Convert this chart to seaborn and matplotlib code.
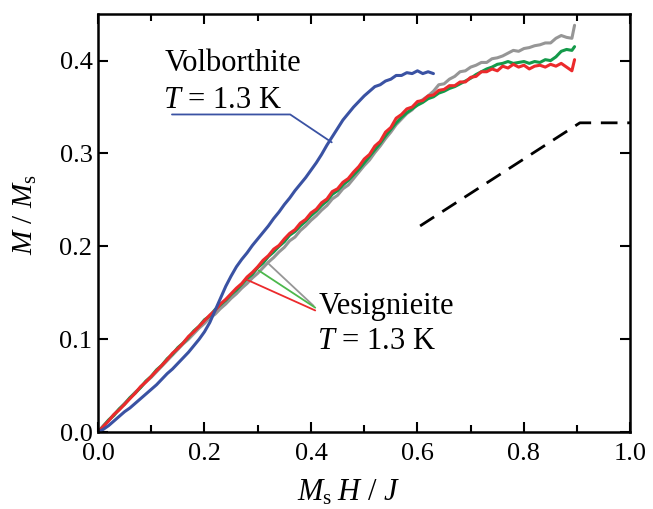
import numpy as np
import pandas as pd
import matplotlib
matplotlib.use("Agg")
import matplotlib.pyplot as plt
import seaborn as sns
from matplotlib.ticker import MultipleLocator

# ---------------- data ----------------
ves_x = [0.00, 0.01, 0.02, 0.03, 0.04, 0.05, 0.06, 0.07, 0.08, 0.09,
         0.10, 0.11, 0.12, 0.13, 0.14, 0.15, 0.16, 0.17, 0.18, 0.19,
         0.20, 0.21, 0.22, 0.23, 0.24, 0.25, 0.26, 0.27, 0.28, 0.29,
         0.30, 0.31, 0.32, 0.33, 0.34, 0.35, 0.36, 0.37, 0.38, 0.39,
         0.40, 0.41, 0.42, 0.43, 0.44, 0.45, 0.46, 0.47, 0.48, 0.49,
         0.50, 0.51, 0.52, 0.53, 0.54, 0.55, 0.56, 0.57, 0.58, 0.59,
         0.60, 0.61, 0.62, 0.63, 0.64, 0.65, 0.66, 0.67, 0.68, 0.69,
         0.70, 0.71, 0.72, 0.73, 0.74, 0.75, 0.76, 0.77, 0.78, 0.79,
         0.80, 0.81, 0.82, 0.83, 0.84, 0.85, 0.86, 0.87, 0.88,
         0.89, 0.895]

ves_red = [0.000, 0.006, 0.012, 0.019, 0.024, 0.030, 0.036, 0.042, 0.049, 0.054,
           0.060, 0.066, 0.072, 0.078, 0.085, 0.090, 0.096, 0.103, 0.108, 0.114,
           0.120, 0.126, 0.131, 0.138, 0.143, 0.149, 0.155, 0.160, 0.167, 0.172,
           0.178, 0.185, 0.190, 0.197, 0.201, 0.208, 0.214, 0.218, 0.225, 0.229,
           0.236, 0.240, 0.247, 0.251, 0.259, 0.262, 0.269, 0.273, 0.280, 0.286,
           0.294, 0.299, 0.308, 0.313, 0.323, 0.328, 0.338, 0.342, 0.348, 0.350,
           0.356, 0.357, 0.362, 0.363, 0.368, 0.369, 0.373, 0.373, 0.377, 0.377,
           0.382, 0.383, 0.388, 0.388, 0.391, 0.389, 0.394, 0.392, 0.396, 0.393,
           0.395, 0.391, 0.394, 0.395, 0.393, 0.396, 0.394, 0.397, 0.393,
           0.389, 0.401]

ves_green = [0.000, 0.006, 0.013, 0.018, 0.025, 0.030, 0.037, 0.042, 0.048, 0.055,
             0.060, 0.067, 0.072, 0.079, 0.084, 0.091, 0.096, 0.102, 0.109, 0.114,
             0.121, 0.125, 0.132, 0.137, 0.142, 0.148, 0.153, 0.159, 0.165, 0.170,
             0.177, 0.182, 0.189, 0.194, 0.200, 0.205, 0.212, 0.216, 0.222, 0.227,
             0.233, 0.238, 0.244, 0.249, 0.256, 0.260, 0.266, 0.271, 0.277, 0.283,
             0.290, 0.297, 0.304, 0.311, 0.319, 0.326, 0.333, 0.339, 0.344, 0.348,
             0.352, 0.355, 0.359, 0.361, 0.365, 0.367, 0.370, 0.372, 0.375, 0.378,
             0.381, 0.385, 0.388, 0.391, 0.393, 0.396, 0.397, 0.399, 0.397, 0.398,
             0.399, 0.397, 0.399, 0.398, 0.401, 0.400, 0.404, 0.410, 0.412,
             0.411, 0.415]

ves_gray = [0.000, 0.007, 0.013, 0.019, 0.025, 0.031, 0.037, 0.043, 0.048, 0.054,
            0.059, 0.065, 0.071, 0.077, 0.083, 0.089, 0.095, 0.100, 0.106, 0.112,
            0.117, 0.123, 0.127, 0.133, 0.138, 0.144, 0.149, 0.155, 0.160, 0.166,
            0.171, 0.177, 0.183, 0.188, 0.194, 0.199, 0.206, 0.210, 0.217, 0.222,
            0.228, 0.233, 0.239, 0.244, 0.251, 0.255, 0.262, 0.266, 0.273, 0.280,
            0.287, 0.293, 0.301, 0.308, 0.316, 0.323, 0.331, 0.337, 0.343, 0.347,
            0.354, 0.358, 0.362, 0.367, 0.374, 0.375, 0.380, 0.383, 0.388, 0.389,
            0.393, 0.395, 0.398, 0.398, 0.402, 0.403, 0.405, 0.408, 0.411, 0.410,
            0.413, 0.414, 0.416, 0.417, 0.419, 0.419, 0.424, 0.427, 0.425,
            0.424, 0.438]

vol_x = [0.00, 0.01, 0.02, 0.03, 0.04, 0.05, 0.06, 0.07, 0.08, 0.09,
         0.10, 0.11, 0.12, 0.13, 0.14, 0.15, 0.16, 0.17, 0.18, 0.19,
         0.20, 0.21, 0.22, 0.23, 0.24, 0.25, 0.26, 0.27, 0.28, 0.29,
         0.30, 0.31, 0.32, 0.33, 0.34, 0.35, 0.36, 0.37, 0.38, 0.39,
         0.40, 0.41, 0.42, 0.43, 0.44, 0.45, 0.46, 0.47, 0.48, 0.49,
         0.50, 0.51, 0.52, 0.53, 0.54, 0.55, 0.56, 0.57, 0.58, 0.59,
         0.60, 0.61, 0.62, 0.63]
vol_m = [0.000, 0.003, 0.007, 0.012, 0.017, 0.022, 0.026, 0.031, 0.036, 0.041,
         0.046, 0.051, 0.057, 0.063, 0.068, 0.074, 0.080, 0.086, 0.093, 0.100,
         0.108, 0.118, 0.131, 0.144, 0.157, 0.168, 0.178, 0.186, 0.193, 0.201,
         0.208, 0.215, 0.222, 0.230, 0.237, 0.245, 0.252, 0.260, 0.267, 0.274,
         0.282, 0.290, 0.299, 0.309, 0.318, 0.327, 0.336, 0.343, 0.350, 0.356,
         0.362, 0.367, 0.372, 0.374, 0.378, 0.380, 0.384, 0.384, 0.387, 0.386,
         0.389, 0.386, 0.388, 0.386]

theory_x = [0.605, 0.905, 1.0]
theory_m = [0.222, 0.333, 0.333]

vol_ptr_x = [0.139, 0.361, 0.439]
vol_ptr_y = [0.342, 0.342, 0.312]
ptr_red_x, ptr_red_y = [0.280, 0.408], [0.164, 0.131]
ptr_green_x, ptr_green_y = [0.302, 0.408], [0.174, 0.134]
ptr_gray_x, ptr_gray_y = [0.321, 0.405], [0.181, 0.136]

x_ticks = [0.0, 0.2, 0.4, 0.6, 0.8, 1.0]
y_ticks = [0.0, 0.1, 0.2, 0.3, 0.4]

# ---------------- style ----------------
sns.set_theme(style="ticks")
plt.rcParams['font.family'] = ['Liberation Serif', 'DejaVu Serif']
plt.rcParams['mathtext.fontset'] = 'custom'
plt.rcParams['mathtext.rm'] = 'Liberation Serif'
plt.rcParams['mathtext.it'] = 'Liberation Serif:italic'
plt.rcParams['mathtext.bf'] = 'Liberation Serif:bold'
for k in ['text.color', 'axes.labelcolor', 'xtick.color', 'ytick.color', 'axes.edgecolor']:
    plt.rcParams[k] = 'black'

BLUE = '#3a52a3'
RED = '#ec2a2c'
GREEN = '#149a4a'
GREEN_PTR = '#4cb84c'
GRAY = '#969696'

fig = plt.figure(figsize=(6.53, 5.09), dpi=100)
ax = fig.add_axes([0.150, 0.151, 0.8155, 0.8212])

ves = pd.DataFrame({'x': ves_x, 'red': ves_red, 'green': ves_green, 'gray': ves_gray})
vol = pd.DataFrame({'x': vol_x, 'm': vol_m})

lw = 2.2
sns.lineplot(data=ves, x='x', y='gray', color=GRAY, lw=lw, sort=False, estimator=None, ax=ax)
sns.lineplot(data=ves, x='x', y='green', color=GREEN, lw=lw, sort=False, estimator=None, ax=ax)
sns.lineplot(data=ves, x='x', y='red', color=RED, lw=lw, sort=False, estimator=None, ax=ax)
sns.lineplot(data=vol, x='x', y='m', color=BLUE, lw=lw, sort=False, estimator=None, ax=ax)
sns.lineplot(x=theory_x, y=theory_m, color='black', lw=2.0, sort=False, estimator=None,
             ax=ax, dashes=False, linestyle=(0, (6, 3.5)))

# pointers
plw = 1.3
ax.plot(vol_ptr_x, vol_ptr_y, color=BLUE, lw=plw)
ax.plot(ptr_gray_x, ptr_gray_y, color=GRAY, lw=plw)
ax.plot(ptr_green_x, ptr_green_y, color=GREEN_PTR, lw=plw)
ax.plot(ptr_red_x, ptr_red_y, color=RED, lw=plw)

# annotations
fs_ann = 22
ax.text(0.125, 0.389, 'Volborthite', fontsize=fs_ann, ha='left', va='baseline')
ax.text(0.122, 0.349, '$T$ = 1.3 K', fontsize=fs_ann, ha='left', va='baseline')
ax.text(0.415, 0.127, 'Vesignieite', fontsize=fs_ann, ha='left', va='baseline')
ax.text(0.412, 0.089, '$T$ = 1.3 K', fontsize=fs_ann, ha='left', va='baseline')

# axes
ax.set_xlim(0, 1.0)
ax.set_ylim(0, 0.45)
ax.set_xticks(x_ticks)
ax.set_xticklabels([f'{v:.1f}' for v in x_ticks])
ax.set_yticks(y_ticks)
ax.set_yticklabels([f'{v:.1f}' for v in y_ticks])
ax.xaxis.set_minor_locator(MultipleLocator(0.1))
ax.tick_params(which='both', direction='in', top=True, right=True,
               width=1.5, labelsize=19, colors='black')
ax.tick_params(which='major', length=7)
ax.tick_params(which='minor', length=5)
ax.tick_params(axis='x', pad=8)
ax.tick_params(axis='y', pad=4)
for s in ax.spines.values():
    s.set_linewidth(1.8)
    s.set_color('black')
ax.set_xlabel(r'$M_\mathrm{s}\;H$ / $J$', fontsize=22)
ax.set_ylabel(r'$M$ / $M_\mathrm{s}$', fontsize=21)
ax.xaxis.set_label_coords(0.47, -0.11)
ax.yaxis.set_label_coords(-0.11, 0.52)
ax.grid(False)

fig.savefig('out.png', dpi=100)
